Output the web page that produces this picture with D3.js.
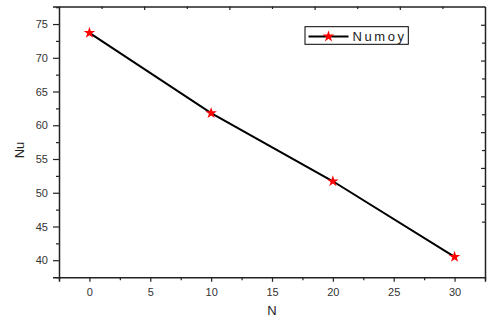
<!DOCTYPE html>
<html><head><meta charset="utf-8">
<script src="https://cdn.jsdelivr.net/npm/d3@7"></script>
<style>body{margin:0;background:#fff}svg{display:block}</style>
</head><body>
<svg id="c" width="489" height="320"></svg>
<script>
const xValues = [0, 10, 20, 30];
const nuValues = [73.7, 61.8, 51.7, 40.5];
const seriesName = "Numoy";
const xTicks = [0, 5, 10, 15, 20, 25, 30];
const yTicks = [40, 45, 50, 55, 60, 65, 70, 75];
const xLabel = "N";
const yLabel = "Nu";

const W = 489, H = 320;
const m = {left: 59, right: 4, top: 6.5, bottom: 42.7};
const svg = d3.select("#c");
const x = d3.scaleLinear().domain([-2.5, 32.5]).range([m.left, W - m.right]);
const y = d3.scaleLinear().domain([37.47, 77.6]).range([H - m.bottom, m.top]);
const axisColor = "#222";
const font = "Liberation Sans, Arial, sans-serif";

const xMinor = d3.range(-2.5, 32.6, 2.5).filter(v => !xTicks.includes(v));
const yMinor = d3.range(37.5, 77.6, 2.5).filter(v => !yTicks.includes(v));

// bottom axis
svg.append("g").attr("transform", `translate(0,${H - m.bottom})`)
  .call(d3.axisBottom(x).tickValues(xTicks).tickSize(4.5).tickPadding(6).tickFormat(d3.format("d")));
svg.append("g").attr("transform", `translate(0,${H - m.bottom})`)
  .call(d3.axisBottom(x).tickValues(xMinor).tickSize(3).tickFormat(""))
  .call(g => g.select(".domain").remove());

// left axis
svg.append("g").attr("transform", `translate(${m.left},0)`)
  .call(d3.axisLeft(y).tickValues(yTicks).tickSize(6).tickPadding(5).tickFormat(d3.format("d")));
svg.append("g").attr("transform", `translate(${m.left},0)`)
  .call(d3.axisLeft(y).tickValues(yMinor).tickSize(3).tickFormat(""))
  .call(g => g.select(".domain").remove());

// top axis (secondary, no labels)
const xTop = d3.scaleLinear().domain([0, 1]).range([m.left, W - m.right]);
const topVals = d3.range(1, 10).map(d => d / 10);
svg.append("g").attr("transform", `translate(0,${m.top})`)
  .call(d3.axisBottom(xTop).tickValues(topVals).tickSizeInner(0).tickSizeOuter(0).tickFormat(""))
  .call(g => g.selectAll(".tick line").attr("y2", (d, i) => (i % 2 === 1 ? 3.5 : 2.5)));

// right axis (secondary, no labels)
const yRight = d3.scaleLinear().domain([-3.11, 12.02]).range([H - m.bottom, m.top]);
svg.append("g").attr("transform", `translate(${W - m.right},0)`)
  .call(d3.axisLeft(yRight).tickValues(d3.range(0, 12)).tickSizeInner(0).tickSizeOuter(0).tickFormat(""))
  .call(g => g.selectAll(".tick line").attr("x2", (d, i) => (i % 2 === 1 ? -4 : -3)));

svg.selectAll(".domain").attr("stroke", axisColor).attr("stroke-width", 1.5);
svg.selectAll(".tick line").attr("stroke", axisColor).attr("stroke-width", 1.2);
svg.selectAll(".tick text").attr("fill", "#333").attr("font-size", 11).attr("font-family", font);

// axis titles
svg.append("text").attr("x", (m.left + W - m.right) / 2).attr("y", 315)
  .attr("text-anchor", "middle").attr("font-size", 13).attr("font-family", font).attr("fill", "#222").text(xLabel);
svg.append("text").attr("transform", "translate(24,150) rotate(-90)")
  .attr("text-anchor", "middle").attr("font-size", 13).attr("font-family", font).attr("fill", "#222").text(yLabel);

// line
const data = xValues.map((v, i) => ({x: v, y: nuValues[i]}));
svg.append("path").datum(data)
  .attr("fill", "none").attr("stroke", "#000").attr("stroke-width", 2)
  .attr("d", d3.line().x(d => x(d.x)).y(d => y(d.y)));

const star = d3.symbol().type(d3.symbolStar).size(42);
svg.selectAll(".pt").data(data).join("path").attr("class", "pt")
  .attr("transform", d => `translate(${x(d.x)},${y(d.y)})`)
  .attr("d", star).attr("fill", "#ff0000");

// legend
const lg = svg.append("g");
lg.append("rect").attr("x", 305).attr("y", 26.7).attr("width", 103.3).attr("height", 17.6)
  .attr("fill", "#fff").attr("stroke", "#000").attr("stroke-width", 1);
lg.append("line").attr("x1", 308.5).attr("x2", 348.5).attr("y1", 36.5).attr("y2", 36.5)
  .attr("stroke", "#000").attr("stroke-width", 2);
lg.append("path").attr("transform", "translate(328.5,36.5)").attr("d", star).attr("fill", "#ff0000");
lg.append("text").attr("x", 352.5).attr("y", 41.3).attr("font-size", 13).attr("font-family", font)
  .attr("letter-spacing", "2.6px").attr("fill", "#222").text(seriesName);
</script>
</body></html>
